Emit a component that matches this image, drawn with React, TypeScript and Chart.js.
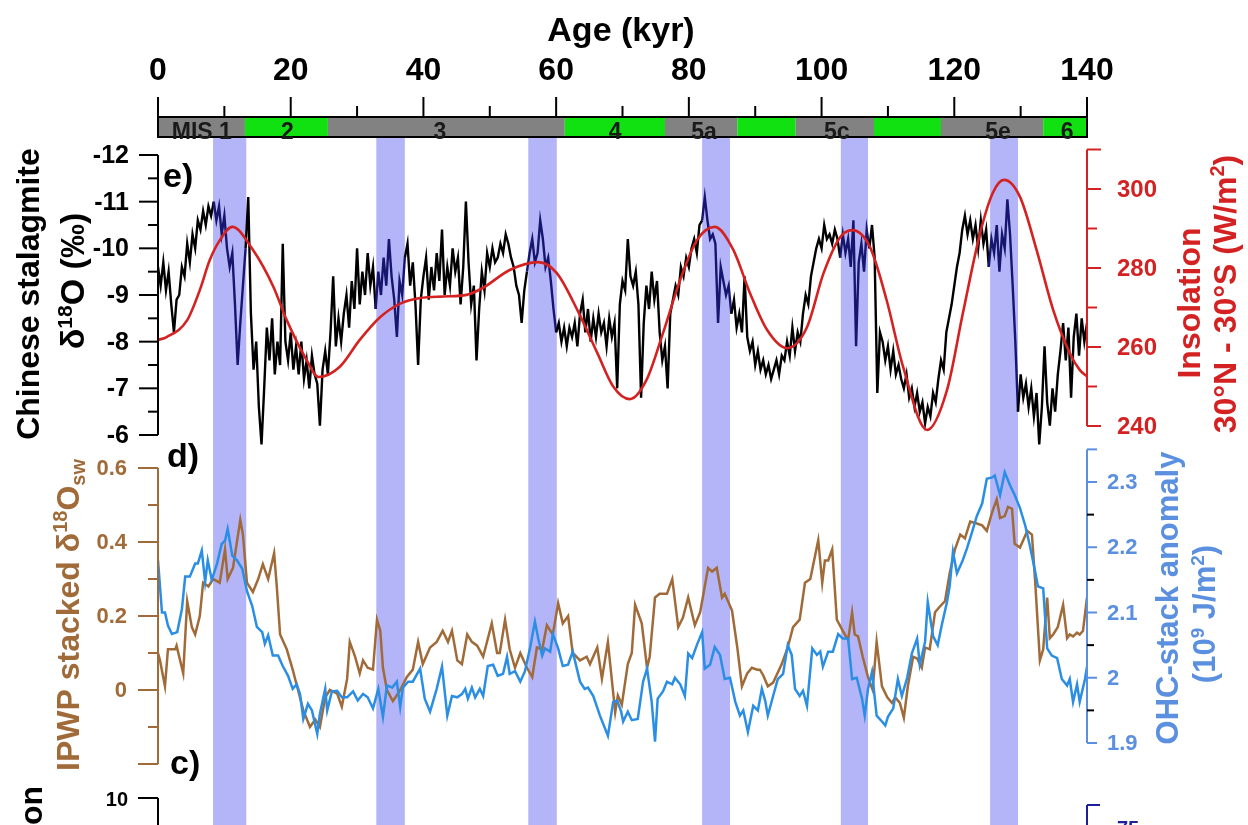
import React, { useEffect, useRef } from "react";
import { Chart, registerables } from "chart.js";
Chart.register(...registerables);

const FF = "'Liberation Sans', Arial, Helvetica, sans-serif";

// ---------------- data ----------------
const ageTickLabels = [0, 20, 40, 60, 80, 100, 120, 140];
const ageMinorTicks = [10, 30, 50, 70, 90, 110, 130];

const misStart = [0, 13.1, 25.6, 61.3, 76.4, 87.3, 96.1, 107.9, 118.0, 133.4];
const misEnd = [13.1, 25.6, 61.3, 76.4, 87.3, 96.1, 107.9, 118.0, 133.4, 140];
const misGlacial = [false, true, false, true, false, true, false, true, false, true];
const misLabels = ["MIS 1", "2", "3", "4", "5a", "5c", "5e", "6"];
const misLabelAge = [6.6, 19.5, 42.5, 68.9, 82.3, 102.3, 126.6, 137.0];

const bandStart = [8.3, 32.9, 55.8, 82.0, 102.9, 125.4];
const bandEnd = [13.3, 37.2, 60.1, 86.2, 107.0, 129.6];

// Chinese stalagmite d18O (permil), every 0.4 kyr from 0 kyr
const STAL_STEP = 0.4;
const stalValues = [
  -9.6, -9.2, -9.7, -9.1, -9.5, -8.8, -8.2, -8.9, -9.0, -9.6,
  -9.4, -10.1, -9.7, -10.3, -10.0, -10.6, -10.4, -10.8, -10.5, -10.9,
  -10.7, -11.0, -10.6, -10.9, -10.3, -10.7, -10.0, -9.6, -9.9, -8.8,
  -7.5, -8.4, -9.2, -10.0, -11.1, -8.6, -7.4, -8.0, -6.6, -5.8,
  -7.0, -8.3, -7.6, -8.5, -7.3, -8.0, -7.5, -10.1, -8.0, -7.6,
  -8.2, -7.4, -7.9, -7.3, -8.0, -7.2, -7.6, -7.0, -7.7, -7.3,
  -7.1, -6.2, -7.4, -7.8, -7.3, -8.2, -9.4, -7.9, -8.5, -8.0,
  -8.6, -9.0, -8.3, -9.3, -8.7, -10.0, -8.8, -9.5, -9.0, -9.9,
  -9.2, -9.6, -8.7, -9.5, -9.0, -9.8, -9.2, -10.2, -9.4, -8.9,
  -8.1, -9.3, -9.0, -9.8, -10.1, -9.2, -9.7, -8.8, -7.5, -8.9,
  -9.4, -9.8, -8.9, -9.6, -9.1, -9.9, -9.3, -10.4, -9.0, -9.6,
  -9.2, -10.0, -9.5, -9.8, -8.8, -9.6, -11.0, -9.7, -8.8, -9.2,
  -7.6, -8.7, -9.5, -9.1, -9.9, -9.6, -10.0, -9.7, -9.8, -10.1,
  -9.9, -10.3, -10.1, -9.8, -9.6, -9.2, -9.0, -8.4, -9.1, -9.5,
  -9.9, -10.2, -9.7, -9.9, -10.6, -10.2, -9.6, -9.8, -9.3, -8.7,
  -8.2, -8.4, -8.0, -8.3, -7.9, -8.3, -8.1, -8.4, -7.9, -8.6,
  -8.9, -8.2, -8.7, -8.0, -8.5, -8.1, -8.6, -8.2, -8.4, -7.9,
  -8.5, -8.1, -8.4, -7.0, -8.8, -9.3, -9.1, -10.2, -9.4, -9.2,
  -9.5, -8.8, -6.8, -8.4, -9.2, -8.7, -9.5, -8.9, -9.3, -8.2,
  -7.6, -7.9, -7.0, -8.6, -8.9, -9.2, -9.0, -9.6, -9.4, -9.8,
  -9.6, -10.0, -10.2, -9.9, -10.5, -10.6, -11.1, -10.6, -10.2, -10.3,
  -10.1, -8.4, -9.6, -9.3, -9.0, -9.2, -8.6, -8.9, -8.3, -8.6,
  -8.2, -9.4, -8.1, -7.8, -8.0, -7.5, -7.8, -7.4, -7.6, -7.3,
  -7.5, -7.2, -7.4, -7.6, -7.3, -7.7, -7.6, -8.0, -7.7, -8.3,
  -7.8, -8.2, -8.0, -8.6, -9.0, -8.8, -9.4, -9.7, -10.0, -10.2,
  -10.0, -10.5, -10.2, -10.3, -10.1, -10.4, -10.2, -9.8, -10.3, -9.9,
  -10.2, -9.6, -10.6, -7.9, -9.7, -10.1, -9.5, -10.4, -10.0, -10.5,
  -9.8, -6.9, -8.2, -8.0, -7.6, -7.9, -7.4, -7.8, -7.3, -7.5,
  -7.2, -7.0, -7.3, -6.8, -7.0, -6.6, -6.9, -6.5, -6.7, -6.25,
  -6.6, -6.4, -6.9, -6.7, -7.2, -7.6, -7.4, -8.2, -8.5, -8.8,
  -9.2, -9.6, -9.9, -10.4, -10.7, -10.3, -10.6, -10.2, -10.5, -10.0,
  -10.6, -10.1, -10.4, -9.6, -10.2, -9.9, -10.5, -9.5, -10.3, -10.0,
  -11.05, -10.3, -9.2, -8.0, -6.5, -7.3, -6.8, -7.1, -6.6, -7.0,
  -6.4, -6.9, -5.8, -6.6, -7.9, -6.7, -6.2, -7.0, -6.5, -7.3,
  -7.8, -8.4, -7.6, -8.3, -6.8, -8.1, -8.6, -7.7, -8.5, -8.0,
  -8.4,
];

// Insolation 30N-30S (W/m2)
const insolAge = [0, 1.3, 4.4, 6.3, 7.8, 9.3, 11.2, 14.3, 17.4, 19.4, 22.4, 24.2, 27.4, 30.4, 33.5, 36.5, 39.5, 43, 46.5, 49, 53, 57.3, 60.1, 63.3, 66.2, 68.6, 71.1, 73.6, 76.1, 78.7, 81.2, 83.9, 86.7, 89.2, 91.8, 94.8, 97.8, 100.3, 102.8, 104.6, 107.3, 109.8, 112.3, 115.9, 118.9, 121.3, 123.9, 125.8, 127.5, 129.9, 132.4, 134.9, 137.4, 138.9, 140];
const insolVal = [261.8, 262.5, 266.8, 274.4, 282, 287, 290.4, 284.6, 275.2, 266.8, 256.7, 252.4, 255, 261.8, 267.6, 271, 272.4, 272.8, 273.2, 275, 279.5, 281.5, 278.7, 269, 258.5, 250, 246.8, 251.6, 263.5, 277, 287, 290.4, 284.6, 273.7, 264.3, 259.7, 265, 278.7, 287.8, 289.6, 285.3, 271.9, 254.9, 239, 249.1, 268.6, 288.9, 299, 302.3, 298, 284.6, 269.4, 258.5, 254.2, 252.5];

// IPWP stacked d18Osw
const ipwpAge = [
  0, 0.3, 1.05, 1.5, 2.6, 2.8, 3.8, 4.4, 5.1, 5.6,
  6.3, 6.8, 7.6, 8.3, 9.3, 10.1, 10.5, 11.3, 12.4, 12.8,
  13.4, 14.3, 15.1, 15.8, 16.6, 17.5, 17.9, 18.4, 19.4, 20.3,
  21.1, 21.9, 22.9, 23.7, 24.4, 25.2, 25.9, 27.0, 27.7, 28.5,
  28.9, 29.7, 30.4, 30.9, 31.6, 32.4, 33.0, 33.5, 33.9, 34.5,
  35.4, 36.5, 37.5, 38.4, 39.2, 39.9, 41.0, 42.0, 42.9, 43.7,
  44.3, 45.1, 45.8, 46.6, 47.3, 48.1, 49.0, 50.3, 51.1, 51.5,
  52.3, 53.0, 53.8, 54.6, 55.6, 56.4, 57.1, 57.9, 58.6, 59.5,
  60.3, 61.0, 61.8, 62.5, 63.6, 64.6, 65.1, 66.2, 66.9, 67.8,
  68.9, 69.3, 69.9, 70.8, 71.4, 71.9, 72.9, 73.7, 74.1, 74.9,
  75.6, 76.7, 77.5, 78.4, 79.1, 79.9, 80.9, 81.7, 82.9, 83.5,
  84.2, 85.0, 85.4, 86.5, 87.3, 88.0, 88.8, 89.5, 90.3, 90.7,
  91.2, 91.9, 92.7, 94.0, 94.9, 95.7, 96.7, 97.5, 98.3, 99.5,
  100.1, 100.5, 101.0, 101.6, 102.3, 103.2, 104.0, 104.6, 105.0, 105.5,
  106.2, 107.0, 107.7, 108.3, 109.1, 109.9, 110.6, 111.1, 111.8, 112.4,
  113.0, 113.8, 114.4, 115.1, 115.6, 116.3, 117.1, 117.8, 118.6, 119.3,
  120.1, 120.9, 121.6, 122.4, 123.4, 124.2, 124.9, 125.7, 126.4, 126.9,
  127.6, 128.1, 128.7, 129.1, 129.9, 131.0, 131.7, 132.2, 132.9, 133.4,
  134.0, 134.4, 134.9, 135.6, 136.4, 137.0, 137.4, 137.9, 138.5, 138.9,
  139.4, 140,
];
const ipwpVal = [
  0.10, 0.08, 0.01, 0.11, 0.11, 0.12, 0.045, 0.24, 0.17, 0.15,
  0.20, 0.29, 0.28, 0.30, 0.29, 0.38, 0.30, 0.33, 0.46, 0.42,
  0.29, 0.265, 0.30, 0.34, 0.30, 0.37, 0.28, 0.15, 0.11, 0.055,
  0.0, -0.055, -0.10, -0.08, -0.10, -0.02, 0.0, -0.01, -0.045, 0.03,
  0.13, 0.09, 0.045, 0.08, 0.06, 0.055, 0.19, 0.16, 0.06, 0.0,
  -0.03, 0.0, 0.035, 0.055, 0.13, 0.07, 0.115, 0.13, 0.16, 0.13,
  0.16, 0.08, 0.07, 0.15, 0.13, 0.12, 0.09, 0.18, 0.10, 0.10,
  0.19, 0.11, 0.06, 0.10, 0.06, 0.035, 0.115, 0.11, 0.175, 0.15,
  0.235, 0.18, 0.20, 0.10, 0.08, 0.09, 0.07, 0.115, 0.03, 0.13,
  -0.06, -0.015, -0.04, 0.07, 0.10, 0.23, 0.18, 0.06, 0.09, 0.25,
  0.26, 0.26, 0.30, 0.17, 0.195, 0.25, 0.175, 0.21, 0.33, 0.32,
  0.33, 0.25, 0.26, 0.215, 0.115, 0.01, 0.045, 0.06, 0.055, 0.055,
  0.04, 0.01, 0.02, 0.07, 0.115, 0.17, 0.19, 0.29, 0.30, 0.405,
  0.29, 0.35, 0.35, 0.38, 0.19, 0.16, 0.135, 0.21, 0.15, 0.145,
  0.09, 0.035, 0.0, 0.13, 0.01, -0.02, -0.035, -0.02, -0.035, -0.075,
  0.01, 0.09, 0.085, 0.06, 0.115, 0.11, 0.21, 0.225, 0.24, 0.315,
  0.38, 0.42, 0.41, 0.455, 0.45, 0.445, 0.43, 0.48, 0.515, 0.465,
  0.47, 0.495, 0.49, 0.395, 0.385, 0.43, 0.42, 0.29, 0.08, 0.11,
  0.25, 0.14, 0.15, 0.17, 0.23, 0.14, 0.15, 0.145, 0.155, 0.15,
  0.16, 0.25,
];

// OHC-stack anomaly (1e9 J/m2)
const ohcAge = [
  0, 0.6, 1.05, 1.5, 2.1, 2.9, 3.6, 4.1, 4.8, 5.6,
  6.0, 6.6, 7.1, 7.5, 8.1, 8.9, 9.6, 10.1, 10.5, 11.2,
  11.9, 12.7, 13.4, 14.2, 14.9, 15.7, 16.1, 16.6, 17.3, 18.1,
  18.8, 19.6, 20.3, 20.9, 21.4, 21.9, 22.6, 23.2, 24.0, 24.4,
  25.2, 25.5, 26.2, 27.0, 27.7, 28.5, 29.4, 30.1, 30.9, 31.6,
  32.4, 33.2, 33.9, 34.5, 35.3, 36.0, 36.5, 36.9, 37.7, 38.4,
  39.5, 40.2, 41.0, 42.0, 42.8, 43.6, 44.3, 45.1, 45.8, 46.3,
  46.7, 47.3, 47.8, 48.5, 49.0, 49.7, 50.5, 51.2, 52.0, 52.6,
  53.0, 53.8, 54.6, 55.3, 56.1, 56.8, 57.3, 57.9, 58.3, 59.1,
  59.5, 60.3, 61.0, 61.8, 62.5, 63.6, 64.3, 64.8, 65.6, 66.6,
  67.8, 68.6, 69.2, 69.8, 70.1, 70.8, 71.4, 72.3, 73.1, 73.7,
  74.4, 74.9, 75.3, 76.1, 76.7, 77.5, 77.9, 78.7, 79.4, 79.9,
  80.5, 81.2, 82.0, 82.4, 83.2, 83.9, 84.7, 85.4, 86.2, 87.0,
  87.7, 88.2, 88.9, 89.7, 90.4, 91.0, 91.5, 91.9, 92.7, 93.4,
  94.2, 94.9, 95.5, 96.0, 96.7, 97.2, 97.8, 98.6, 99.3, 99.8,
  100.2, 101.0, 101.7, 102.5, 103.2, 104.0, 104.6, 105.3, 106.1, 106.5,
  107.0, 107.6, 108.3, 109.1, 109.6, 110.0, 110.8, 111.5, 112.1, 112.9,
  113.6, 114.4, 114.8, 115.6, 116.0, 116.8, 117.5, 118.1, 118.9, 119.3,
  119.8, 120.4, 121.2, 121.9, 122.7, 123.4, 124.2, 124.9, 125.7, 126.1,
  126.9, 127.6, 128.4, 129.1, 129.9, 130.7, 131.4, 132.2, 132.6, 133.4,
  134.0, 134.7, 135.5, 136.2, 137.0, 137.4, 137.9, 138.5, 138.9, 139.7,
  140,
];
const ohcVal = [
  2.18, 2.10, 2.10, 2.08, 2.067, 2.07, 2.105, 2.155, 2.155, 2.175,
  2.175, 2.195, 2.147, 2.18, 2.15, 2.175, 2.205, 2.21, 2.228, 2.187,
  2.18, 2.167, 2.133, 2.11, 2.078, 2.07, 2.052, 2.065, 2.034, 2.034,
  2.018, 2.003, 1.983, 1.99, 1.975, 1.937, 1.96, 1.95, 1.914, 1.945,
  1.983, 1.95, 1.979, 1.98, 1.97, 1.97, 1.979, 1.965, 1.975, 1.97,
  1.953, 1.983, 1.94, 1.988, 1.985, 1.994, 1.955, 1.985, 1.994, 1.994,
  2.014, 1.968, 1.948, 1.983, 2.017, 1.942, 1.972, 1.97, 1.975, 1.983,
  1.968, 1.985, 1.97, 1.983, 1.972, 2.018, 2.02, 2.003, 2.006, 2.032,
  2.006, 2.01, 1.994, 2.01, 2.047, 2.086, 2.06, 2.034, 2.045, 2.04,
  2.067, 2.045, 2.018, 2.02, 2.04, 1.994, 1.983, 1.985, 1.972, 1.942,
  1.911, 1.963, 1.965, 1.948, 1.933, 1.948, 1.935, 1.937, 1.994, 2.014,
  1.963, 1.902, 1.968, 1.979, 1.994, 1.99, 2.0, 1.99, 1.972, 2.037,
  2.03, 2.05, 2.07, 2.014, 2.02, 2.047, 2.035, 1.998, 2.0, 1.963,
  1.942, 1.95, 1.917, 1.957, 1.95, 1.983, 1.965, 1.942, 1.972, 1.998,
  2.006, 2.05, 2.035, 1.983, 1.972, 1.98, 1.957, 2.045, 2.035, 2.04,
  2.017, 2.04, 2.04, 2.067, 2.06, 2.06, 1.998, 2.0, 1.968, 1.942,
  1.983, 2.009, 1.942, 1.933, 1.927, 1.94, 1.953, 1.998, 1.972, 2.0,
  2.037, 2.06, 2.02, 2.055, 2.116, 2.064, 2.05, 2.08, 2.116, 2.14,
  2.193, 2.16, 2.178, 2.198, 2.224, 2.248, 2.267, 2.305, 2.307, 2.31,
  2.28, 2.315, 2.295, 2.28, 2.26, 2.233, 2.202, 2.162, 2.14, 2.137,
  2.045, 2.034, 2.03, 1.998, 1.988, 1.998, 1.963, 1.99, 1.963, 1.998,
  2.017,
];

// axis ticks
const stalMajor = [-12, -11, -10, -9, -8, -7, -6];
const stalMinor = [-11.5, -10.5, -9.5, -8.5, -7.5, -6.5];
const insolMajor = [240, 260, 280, 300];
const insolMinor = [250, 270, 290];
const ipwpMajor = [0.6, 0.4, 0.2, 0];
const ipwpMinor = [0.5, 0.3, 0.1, -0.1];
const ohcMajor = [1.9, 2.0, 2.1, 2.2, 2.3];
const ohcMinor = [1.95, 2.05, 2.15, 2.25];

// ---------------- layout / style ----------------
const W = 1248, H = 825;
const LEFT = 158, RIGHT = 1087, TOP = 138, BOTTOM = 825;
const BAND = "rgb(180,180,248)";
const NAVY = "#16166e";
const RED = "#d42222";
const BROWN = "#a06b38";
const BLUE_LINE = "#2a8ee4";
const BLUE_AX = "#5b8fe0";
const GREEN = "#11e011";
const GRAY = "#828282";

function fitAxis(v1: number, p1: number, v2: number, p2: number) {
  const b = (p2 - p1) / (v2 - v1);
  const a = p1 - b * v1;
  const vt = (TOP - a) / b;
  const vb = (BOTTOM - a) / b;
  return b < 0 ? { min: vb, max: vt, reverse: false } : { min: vt, max: vb, reverse: true };
}

const inBand = (x: number) => bandStart.some((s, i) => x >= s && x <= bandEnd[i]);

function line(ctx: CanvasRenderingContext2D, x1: number, y1: number, x2: number, y2: number) {
  ctx.beginPath();
  ctx.moveTo(x1, y1);
  ctx.lineTo(x2, y2);
  ctx.stroke();
}

type Part = { t: string; s?: "sup" | "sub" };
function rich(ctx: CanvasRenderingContext2D, parts: Part[], x: number, y: number, size: number, color: string, rotate = true) {
  ctx.save();
  ctx.translate(x, y);
  if (rotate) ctx.rotate(-Math.PI / 2);
  ctx.fillStyle = color;
  ctx.textBaseline = "alphabetic";
  ctx.textAlign = "left";
  const fontFor = (p: Part) => `bold ${p.s ? Math.round(size * 0.62) : size}px ${FF}`;
  let total = 0;
  const widths = parts.map((p) => {
    ctx.font = fontFor(p);
    const w = ctx.measureText(p.t).width;
    total += w;
    return w;
  });
  let cx = -total / 2;
  const base = size * 0.36;
  parts.forEach((p, i) => {
    ctx.font = fontFor(p);
    const dy = p.s === "sup" ? -size * 0.36 : p.s === "sub" ? size * 0.2 : 0;
    ctx.fillText(p.t, cx, base + dy);
    cx += widths[i];
  });
  ctx.restore();
}

function vAxis(ctx: CanvasRenderingContext2D, scale: any, o: any) {
  const p = (v: number) => scale.getPixelForValue(v);
  const dir = o.side === "left" ? -1 : 1;
  ctx.save();
  ctx.lineWidth = 2;
  ctx.strokeStyle = o.color;
  line(ctx, o.x, p(o.from), o.x, p(o.to));
  o.major.forEach((v: number) => line(ctx, o.x, p(v), o.x + dir * o.majorLen, p(v)));
  (o.caps || []).forEach((v: number) => line(ctx, o.x, p(v), o.x + dir * o.majorLen, p(v)));
  ctx.strokeStyle = o.minorColor || o.color;
  o.minor.forEach((v: number) => line(ctx, o.x, p(v), o.x + dir * o.minorLen, p(v)));
  ctx.fillStyle = o.color;
  ctx.font = `bold ${o.fontSize}px ${FF}`;
  ctx.textAlign = o.side === "left" ? "right" : "left";
  ctx.textBaseline = "middle";
  o.major.forEach((v: number, i: number) => {
    ctx.fillText(o.labels[i], o.x + dir * (o.majorLen + o.gap), p(v) + 1);
  });
  ctx.restore();
}

const paleoPlugin = {
  id: "paleo",
  beforeDatasetsDraw(chart: any) {
    const { ctx, chartArea } = chart;
    const xs = chart.scales.x;
    ctx.save();
    ctx.fillStyle = BAND;
    bandStart.forEach((s, i) => {
      const a = xs.getPixelForValue(s);
      const b = xs.getPixelForValue(bandEnd[i]);
      ctx.fillRect(a, chartArea.top, b - a, chartArea.bottom - chartArea.top);
    });
    ctx.restore();
  },
  afterDatasetsDraw(chart: any) {
    const ctx: CanvasRenderingContext2D = chart.ctx;
    const xs = chart.scales.x;
    const X = (v: number) => xs.getPixelForValue(v);
    ctx.save();

    // ---- top age axis ----
    ctx.strokeStyle = "#000";
    ctx.lineWidth = 2;
    ageTickLabels.forEach((v) => line(ctx, X(v), 97, X(v), 118));
    ageMinorTicks.forEach((v) => line(ctx, X(v), 106, X(v), 118));
    ctx.fillStyle = "#000";
    ctx.textAlign = "center";
    ctx.textBaseline = "alphabetic";
    ctx.font = `bold 32px ${FF}`;
    ageTickLabels.forEach((v) => ctx.fillText(String(v), X(v), 80));
    ctx.font = `bold 34px ${FF}`;
    ctx.fillText("Age (kyr)", 621, 41);

    // ---- MIS bar ----
    misStart.forEach((s, i) => {
      ctx.fillStyle = misGlacial[i] ? GREEN : GRAY;
      ctx.fillRect(X(s), 117, X(misEnd[i]) - X(s), 20);
    });
    ctx.strokeStyle = "#000";
    ctx.lineWidth = 2;
    ctx.strokeRect(LEFT, 117, RIGHT - LEFT, 20);
    ctx.fillStyle = "#1a1a1a";
    ctx.font = `bold 23px ${FF}`;
    misLabels.forEach((t, i) => ctx.fillText(t, X(misLabelAge[i]), 139));

    // ---- panel e axes ----
    vAxis(ctx, chart.scales.yStal, {
      x: LEFT, side: "left", from: -12, to: -6, major: stalMajor, minor: stalMinor,
      labels: stalMajor.map((v) => String(v)), color: "#000", majorLen: 19, minorLen: 10, gap: 10, fontSize: 25,
    });
    vAxis(ctx, chart.scales.yIns, {
      x: RIGHT, side: "right", from: 240, to: 310, major: insolMajor, minor: insolMinor, caps: [310],
      labels: insolMajor.map((v) => String(v)), color: RED, majorLen: 14, minorLen: 10, gap: 16, fontSize: 24,
    });

    // ---- panel d axes ----
    vAxis(ctx, chart.scales.yIpwp, {
      x: LEFT, side: "left", from: 0.6, to: -0.2, major: ipwpMajor, minor: ipwpMinor, caps: [-0.2],
      labels: ["0.6", "0.4", "0.2", "0"], color: BROWN, majorLen: 20, minorLen: 10, gap: 11, fontSize: 22,
    });
    vAxis(ctx, chart.scales.yOhc, {
      x: RIGHT, side: "right", from: 1.9, to: 2.35, major: ohcMajor, minor: ohcMinor, caps: [2.35],
      labels: ["1.9", "2", "2.1", "2.2", "2.3"], color: BLUE_AX, minorColor: "#000",
      majorLen: 10, minorLen: 7, gap: 10, fontSize: 22,
    });

    // ---- panel c (partially visible) ----
    ctx.strokeStyle = "#000";
    ctx.lineWidth = 2;
    line(ctx, LEFT, 798, LEFT, H);
    line(ctx, LEFT - 20, 798, LEFT, 798);
    ctx.fillStyle = "#000";
    ctx.font = `bold 20px ${FF}`;
    ctx.textAlign = "right";
    ctx.textBaseline = "middle";
    ctx.fillText("10", 128, 800);
    ctx.strokeStyle = "#1f1f9e";
    line(ctx, RIGHT, 805, RIGHT, H);
    line(ctx, RIGHT, 805, RIGHT + 13, 805);
    ctx.fillStyle = "#1f1f9e";
    ctx.textAlign = "left";
    ctx.textBaseline = "top";
    ctx.fillText("75", 1117, 819);

    // ---- panel letters ----
    ctx.fillStyle = "#000";
    ctx.textAlign = "left";
    ctx.textBaseline = "alphabetic";
    ctx.font = `bold 34px ${FF}`;
    ctx.fillText("e)", 163, 187);
    ctx.fillText("d)", 167, 467);
    ctx.fillText("c)", 170, 774);

    // ---- axis titles ----
    rich(ctx, [{ t: "Chinese stalagmite" }], 27, 294, 32, "#000");
    rich(ctx, [{ t: "δ" }, { t: "18", s: "sup" }, { t: "O (‰)" }], 72, 281, 34, "#000");
    rich(ctx, [{ t: "Insolation" }], 1188, 303, 32, RED);
    rich(ctx, [{ t: "30°N - 30°S (W/m" }, { t: "2", s: "sup" }, { t: ")" }], 1224, 294, 32, RED);
    rich(ctx, [{ t: "IPWP stacked δ" }, { t: "18", s: "sup" }, { t: "O" }, { t: "sw", s: "sub" }], 67, 615, 32, BROWN);
    rich(ctx, [{ t: "OHC-stack anomaly" }], 1167, 598, 31, BLUE_AX);
    rich(ctx, [{ t: "(10" }, { t: "9", s: "sup" }, { t: " J/m" }, { t: "2", s: "sup" }, { t: ")" }], 1204, 614, 31, BLUE_AX);

    // partial panel-c title
    ctx.save();
    ctx.translate(33, 786);
    ctx.rotate(-Math.PI / 2);
    ctx.fillStyle = "#000";
    ctx.font = `bold 32px ${FF}`;
    ctx.textAlign = "right";
    ctx.textBaseline = "middle";
    ctx.fillText("Precipitation", 0, 0);
    ctx.restore();

    ctx.restore();
  },
};

export default function App() {
  const ref = useRef<HTMLCanvasElement | null>(null);
  useEffect(() => {
    if (!ref.current) return;
    const yStal = fitAxis(-12, 155, -6, 435);
    const yIns = fitAxis(240, 426, 300, 189);
    const yIpwp = fitAxis(0, 690, 0.6, 468);
    const yOhc = fitAxis(1.9, 743, 2.3, 482);
    const hidden = { type: "linear", display: false };
    const chart = new Chart(ref.current, {
      type: "line",
      data: {
        datasets: [
          {
            label: "Insolation",
            data: insolAge.map((a, i) => ({ x: a, y: insolVal[i] })),
            yAxisID: "yIns",
            borderColor: RED,
            borderWidth: 2.6,
            pointRadius: 0,
            cubicInterpolationMode: "monotone",
            order: 1,
          },
          {
            label: "Stalagmite",
            data: stalValues.map((v, i) => ({ x: i * STAL_STEP, y: v })),
            yAxisID: "yStal",
            borderColor: "#000",
            borderWidth: 2.4,
            borderJoinStyle: "miter",
            pointRadius: 0,
            tension: 0,
            order: 2,
            segment: {
              borderColor: (c: any) => (inBand((c.p0.parsed.x + c.p1.parsed.x) / 2) ? NAVY : undefined),
            },
          },
          {
            label: "OHC",
            data: ohcAge.map((a, i) => ({ x: a, y: ohcVal[i] })),
            yAxisID: "yOhc",
            borderColor: BLUE_LINE,
            borderWidth: 2.5,
            pointRadius: 0,
            tension: 0,
            order: 3,
          },
          {
            label: "IPWP",
            data: ipwpAge.map((a, i) => ({ x: a, y: ipwpVal[i] })),
            yAxisID: "yIpwp",
            borderColor: BROWN,
            borderWidth: 2.5,
            pointRadius: 0,
            tension: 0,
            order: 4,
          },
        ],
      },
      options: {
        responsive: false,
        animation: false,
        devicePixelRatio: 1,
        layout: { padding: { left: LEFT, right: W - RIGHT, top: TOP, bottom: H - BOTTOM } },
        plugins: { legend: { display: false }, tooltip: { enabled: false } },
        scales: {
          x: { type: "linear", display: false, min: 0, max: 140 },
          yStal: { ...hidden, ...yStal },
          yIns: { ...hidden, ...yIns },
          yIpwp: { ...hidden, ...yIpwp },
          yOhc: { ...hidden, ...yOhc },
        },
      } as any,
      plugins: [paleoPlugin],
    } as any);
    return () => chart.destroy();
  }, []);
  return (
    <div style={{ position: "fixed", left: 0, top: 0, width: W, height: H, background: "#fff" }}>
      <canvas ref={ref} width={W} height={H} style={{ display: "block", width: W, height: H }} />
    </div>
  );
}
